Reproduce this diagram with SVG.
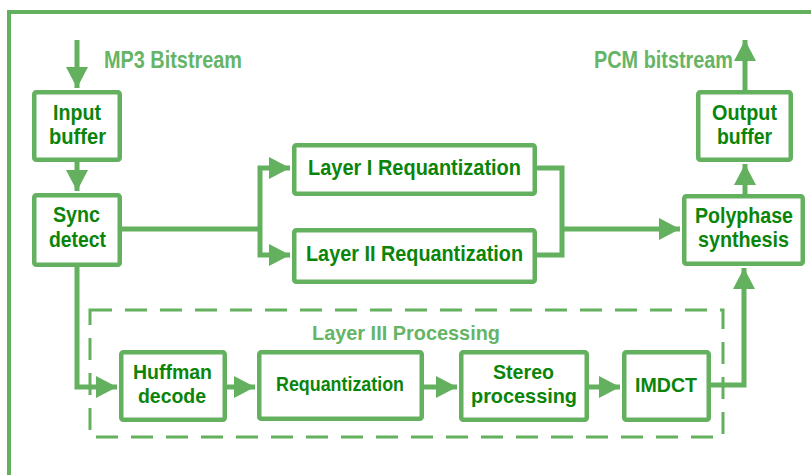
<svg xmlns="http://www.w3.org/2000/svg" width="811" height="475" viewBox="0 0 811 475">
<style>
.box{fill:#fff;stroke:#63b05f;stroke-width:4.5}
.ln{fill:none;stroke:#63b05f;stroke-width:5}
.t{font-family:"Liberation Sans",Arial,sans-serif;font-weight:bold;font-size:22px;fill:#0a850a;text-anchor:middle}
.s{font-size:21px}
.lbl{font-family:"Liberation Sans",Arial,sans-serif;font-weight:bold;font-size:24px;fill:#66b466}
</style>
<defs>
<marker id="ah" markerUnits="userSpaceOnUse" markerWidth="22" markerHeight="24" refX="21" refY="11" orient="auto">
<path d="M0,0 L21,11 L0,22 z" fill="#63b05f"/>
</marker>
</defs>
<rect width="811" height="475" fill="#fff"/>
<path d="M9,480 V12 H820" fill="none" stroke="#63b05f" stroke-width="4"/>
<g id="layer3-group">
<rect x="90" y="310" width="633" height="127" fill="none" stroke="#63b05f" stroke-width="3" stroke-dasharray="22 13"/>
<text class="lbl" x="406" y="340" font-size="21" text-anchor="middle" textLength="188" lengthAdjust="spacingAndGlyphs" style="font-size:21px">Layer III Processing</text>
</g>
<g id="connectors">
<path class="ln" d="M77,40 V88" marker-end="url(#ah)"/>
<path class="ln" d="M77,162 V191" marker-end="url(#ah)"/>
<path class="ln" d="M122,229 H260"/>
<path class="ln" d="M260,229 V168 H290" marker-end="url(#ah)"/>
<path class="ln" d="M260,229 V255 H290" marker-end="url(#ah)"/>
<path class="ln" d="M537,168 H562 V255 H537"/>
<path class="ln" d="M562,229 H680" marker-end="url(#ah)"/>
<path class="ln" d="M745,194 V164" marker-end="url(#ah)"/>
<path class="ln" d="M745,90 V40" marker-end="url(#ah)"/>
<path class="ln" d="M77,267 V387 H117" marker-end="url(#ah)"/>
<path class="ln" d="M227,387 H255" marker-end="url(#ah)"/>
<path class="ln" d="M424,387 H457" marker-end="url(#ah)"/>
<path class="ln" d="M589,387 H620" marker-end="url(#ah)"/>
<path class="ln" d="M711,385 H744 V268" marker-end="url(#ah)"/>
</g>
<text class="lbl" x="104" y="68" textLength="138" lengthAdjust="spacingAndGlyphs">MP3 Bitstream</text>
<text class="lbl" x="594" y="68" textLength="139" lengthAdjust="spacingAndGlyphs">PCM bitstream</text>
<g id="input-buffer">
<rect class="box" x="34.25" y="92.25" width="85.5" height="67.5" rx="2"/>
<text class="t" x="77" y="120" textLength="48" lengthAdjust="spacingAndGlyphs">Input</text>
<text class="t" x="77.5" y="144" textLength="57" lengthAdjust="spacingAndGlyphs">buffer</text>
</g>
<g id="sync-detect">
<rect class="box" x="34.25" y="195.25" width="85.5" height="69.5" rx="2"/>
<text class="t" x="76.5" y="222" textLength="47" lengthAdjust="spacingAndGlyphs">Sync</text>
<text class="t" x="77.5" y="247" textLength="57" lengthAdjust="spacingAndGlyphs">detect</text>
</g>
<g id="layer1">
<rect class="box" x="294.25" y="145.25" width="240.5" height="48.5" rx="2"/>
<text class="t" x="414.5" y="175" textLength="213" lengthAdjust="spacingAndGlyphs">Layer I Requantization</text>
</g>
<g id="layer2">
<rect class="box" x="294.25" y="230.25" width="240.5" height="51.5" rx="2"/>
<text class="t" x="414.5" y="261" textLength="217" lengthAdjust="spacingAndGlyphs">Layer II Requantization</text>
</g>
<g id="polyphase">
<rect class="box" x="684.25" y="196.25" width="118.5" height="67.5" rx="2"/>
<text class="t" x="744" y="223" textLength="98" lengthAdjust="spacingAndGlyphs">Polyphase</text>
<text class="t" x="743.5" y="247" textLength="91" lengthAdjust="spacingAndGlyphs">synthesis</text>
</g>
<g id="output-buffer">
<rect class="box" x="698.25" y="92.25" width="92.5" height="67.5" rx="2"/>
<text class="t" x="744.5" y="120" textLength="65" lengthAdjust="spacingAndGlyphs">Output</text>
<text class="t" x="744.5" y="144" textLength="55" lengthAdjust="spacingAndGlyphs">buffer</text>
</g>
<g id="huffman">
<rect class="box" x="121.25" y="352.25" width="103.5" height="67.5" rx="2"/>
<text class="t s" x="172.5" y="379" textLength="79" lengthAdjust="spacingAndGlyphs">Huffman</text>
<text class="t s" x="172" y="403" textLength="68" lengthAdjust="spacingAndGlyphs">decode</text>
</g>
<g id="requantization">
<rect class="box" x="259.25" y="352.25" width="162.5" height="66.5" rx="2"/>
<text class="t s" x="340" y="391" textLength="128" lengthAdjust="spacingAndGlyphs">Requantization</text>
</g>
<g id="stereo">
<rect class="box" x="461.25" y="352.25" width="125.5" height="67.5" rx="2"/>
<text class="t s" x="523.5" y="379" textLength="61" lengthAdjust="spacingAndGlyphs">Stereo</text>
<text class="t s" x="524" y="403" textLength="106" lengthAdjust="spacingAndGlyphs">processing</text>
</g>
<g id="imdct">
<rect class="box" x="624.25" y="352.25" width="84.5" height="67.5" rx="2"/>
<text class="t s" x="666" y="392" textLength="62" lengthAdjust="spacingAndGlyphs">IMDCT</text>
</g>
</svg>
